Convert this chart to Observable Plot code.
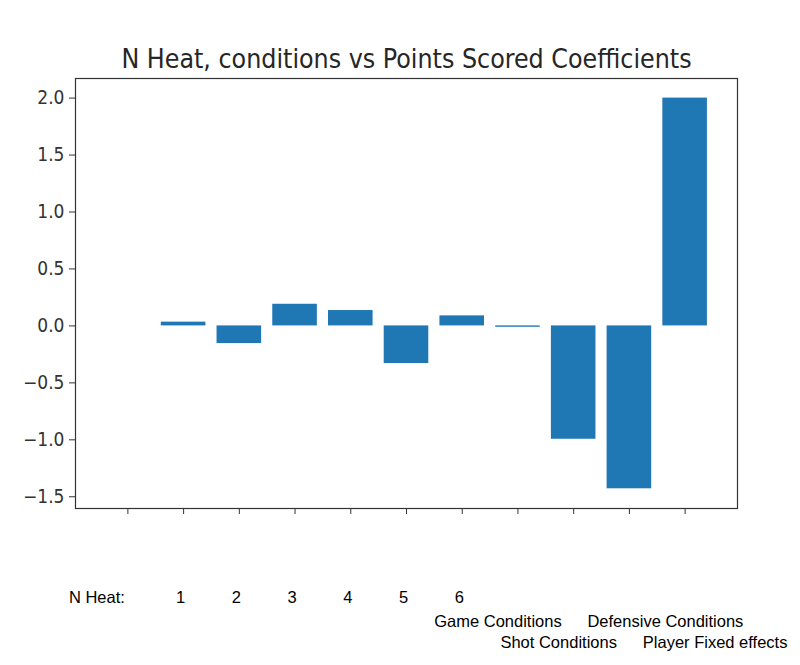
<!DOCTYPE html>
<html>
<head>
<meta charset="utf-8">
<script src="https://cdn.jsdelivr.net/npm/d3@7"></script>
<script src="https://cdn.jsdelivr.net/npm/@observablehq/plot@0.6"></script>
<style>
  html, body { margin: 0; padding: 0; background: #fff; }
</style>
</head>
<body>
<div id="chart"></div>
<script>
// ---- data ----
const positions = [0, 1, 2, 3, 4, 5, 6, 7, 8, 9, 10];
const coefficients = [0, 0.033, -0.155, 0.19, 0.135, -0.33, 0.088, -0.012, -0.995, -1.43, 2.0];
const yTicks = [-1.5, -1.0, -0.5, 0.0, 0.5, 1.0, 1.5, 2.0];
const title = "N Heat, conditions vs Points Scored Coefficients";
const heatLabels = ["1", "2", "3", "4", "5", "6"];
const heatPos = [1, 2, 3, 4, 5, 6];
const heatHeader = "N Heat:";
const condLabelsLeft = ["Game Conditions", "Shot Conditions"];
const condPosLeft = [7, 8];
const condRowLeft = [0, 1];
const condLabelsRight = ["Defensive Conditions", "Player Fixed effects"];
const condPosRight = [9, 10];
const condRowRight = [0, 1];

const bars = positions.map((p, i) => ({pos: p, value: coefficients[i]}));
const heat = heatLabels.map((t, i) => ({label: t, pos: heatPos[i]}));
const condL = condLabelsLeft.map((t, i) => ({label: t, pos: condPosLeft[i], row: condRowLeft[i]}));
const condR = condLabelsRight.map((t, i) => ({label: t, pos: condPosRight[i], row: condRowRight[i]}));

const blue = "#1f77b4";
const axisColor = "#333";
const labelFont = "'Liberation Sans', Arial, sans-serif";
const condensed = "'DejaVu Sans Condensed', 'DejaVu Sans', sans-serif";

const chart = Plot.plot({
  width: 800,
  height: 665,
  marginTop: 78,
  marginBottom: 157,
  marginLeft: 75,
  marginRight: 63,
  style: {fontFamily: condensed, color: axisColor, background: "#fff"},
  x: {domain: [-0.94, 10.94]},
  y: {domain: [-1.603, 2.172]},
  marks: [
    Plot.rect(bars, {x1: d => d.pos - 0.4, x2: d => d.pos + 0.4, y1: 0, y2: "value", fill: blue}),
    Plot.frame({stroke: axisColor, strokeWidth: 1.2}),
    Plot.axisY({ticks: yTicks, tickFormat: d3.format(".1f"), tickSize: 6, tickPadding: 5, fontSize: 19, fontFamily: condensed, label: null, stroke: axisColor}),
    Plot.axisX({ticks: positions, tickFormat: () => "", tickSize: 6, label: null, stroke: axisColor}),
    Plot.text([title], {frameAnchor: "top", dy: -29, fontSize: 26.5, fontFamily: condensed, fill: "#262626"}),
    Plot.text([heatHeader], {x: () => 0, frameAnchor: "bottom", textAnchor: "end", dx: -3, dy: 94, fontSize: 16.5, fontFamily: labelFont, fill: "#000"}),
    Plot.text(heat, {x: "pos", text: "label", frameAnchor: "bottom", dx: -3, dy: 94, fontSize: 16.5, fontFamily: labelFont, fill: "#000"}),
    Plot.text(condL.filter(d => d.row === 0), {x: "pos", text: "label", frameAnchor: "bottom", dx: -20, dy: 118, fontSize: 16.5, fontFamily: labelFont, fill: "#000"}),
    Plot.text(condL.filter(d => d.row === 1), {x: "pos", text: "label", frameAnchor: "bottom", dx: -15, dy: 139, fontSize: 16.5, fontFamily: labelFont, fill: "#000"}),
    Plot.text(condR.filter(d => d.row === 0), {x: "pos", text: "label", frameAnchor: "bottom", dx: 36, dy: 118, fontSize: 16.5, fontFamily: labelFont, fill: "#000"}),
    Plot.text(condR.filter(d => d.row === 1), {x: "pos", text: "label", frameAnchor: "bottom", dx: 30, dy: 139, fontSize: 16.5, fontFamily: labelFont, fill: "#000"})
  ]
});
document.getElementById("chart").appendChild(chart);
</script>
</body>
</html>
